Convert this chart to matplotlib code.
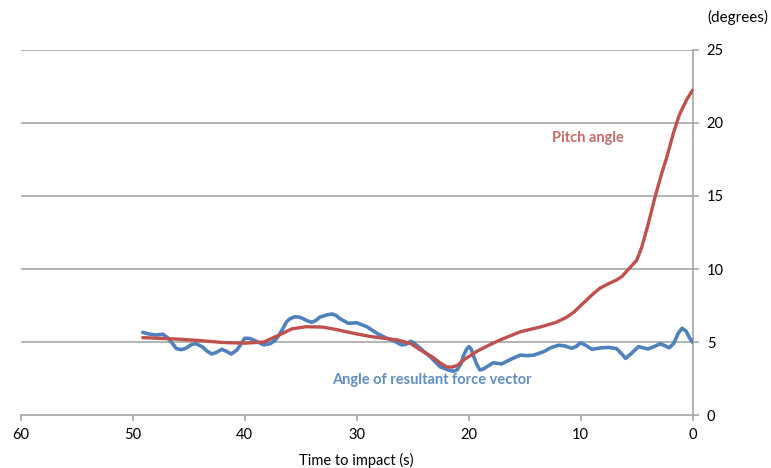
import matplotlib
matplotlib.use("Agg")
import matplotlib.pyplot as plt

plt.rcParams['font.family'] = ['Lato', 'DejaVu Sans']

# Angle of resultant force vector (blue)
force_t = [49.1, 48.45, 47.9, 47.3, 46.8, 46.4, 46.1, 45.7, 45.3, 44.8, 44.4, 43.8, 43.4,
           42.95, 42.5, 42.05, 41.6, 41.2, 40.7, 40.3,
           40.0, 39.6, 39.2, 38.7, 38.3, 37.7, 37.3, 37.0, 36.6, 36.25, 35.9, 35.5, 35.1,
           34.8, 34.4, 34.0, 33.6, 33.3, 32.7, 32.2, 31.8, 31.5,
           30.75, 30.0, 29.1, 28.2, 27.5, 26.7, 26.0, 25.6, 25.2, 24.9, 24.5, 24.0, 23.45,
           22.55, 21.8, 21.4,
           21.05, 20.7, 20.5, 20.2, 20.0, 19.8, 19.6, 19.3, 19.0, 18.7, 18.4, 17.8, 17.05,
           16.3, 15.4, 14.8, 14.2, 13.3,
           12.7, 12.0, 11.4, 10.8, 10.4, 10.0, 9.5, 9.0, 8.2, 7.5, 6.8, 6.3, 6.0, 5.5, 4.85,
           4.4, 4.0, 3.4, 2.9, 2.5, 2.1, 1.7, 1.3, 0.95, 0.6, 0.3, 0.0]
force_v = [5.66, 5.53, 5.48, 5.53, 5.25, 4.85, 4.55, 4.48, 4.55, 4.8, 4.9, 4.68, 4.4,
           4.18, 4.3, 4.5, 4.35, 4.18, 4.45, 4.9,
           5.25, 5.25, 5.14, 4.95, 4.8, 4.9, 5.1, 5.4, 5.9, 6.4, 6.62, 6.73, 6.7,
           6.6, 6.45, 6.35, 6.5, 6.7, 6.85, 6.92, 6.8, 6.6,
           6.28, 6.32, 6.05, 5.6, 5.32, 5.09, 4.8, 4.85, 5.05, 4.95, 4.68, 4.35, 4.0,
           3.3, 3.08, 3.0,
           3.08, 3.5, 4.0, 4.5, 4.68, 4.55, 4.1, 3.5, 3.08, 3.15, 3.3, 3.58, 3.5,
           3.8, 4.1, 4.07, 4.1, 4.34,
           4.6, 4.78, 4.73, 4.57, 4.7, 4.95, 4.75, 4.5, 4.6, 4.63, 4.55, 4.15, 3.88, 4.2, 4.68,
           4.6, 4.52, 4.7, 4.88, 4.75, 4.6, 4.9, 5.6, 5.94, 5.75, 5.3, 4.97]

# Pitch angle (red)
pitch_t = [49.1, 46, 44, 42, 40, 38.3, 37, 35.8, 34.5, 33, 31.8, 30.3, 28.8, 27.5,
           26.4, 25.2, 24.3, 23.2, 22.6, 22.0, 21.5, 21.0, 20.4, 19.3, 18.2, 17.2, 15.4,
           13.5, 12.2, 11.25, 10.6, 10.0, 9.1, 8.3, 7.5, 6.8, 6.3, 5.9, 5.6, 5.0, 4.55,
           3.97, 3.36, 2.77, 2.3, 1.73, 1.2, 0.54, 0.0]
pitch_v = [5.3, 5.2, 5.1, 4.97, 4.92, 5.0, 5.45, 5.9, 6.05, 6.02, 5.85, 5.6, 5.38, 5.25,
           5.15, 4.9, 4.45, 3.95, 3.6, 3.3, 3.28, 3.4, 3.8, 4.35, 4.78, 5.14, 5.7,
           6.05, 6.35, 6.7, 7.05, 7.5, 8.15, 8.68, 9.0, 9.25, 9.5, 9.85, 10.1, 10.6, 11.5,
           13.1, 14.95, 16.55, 17.7, 19.3, 20.55, 21.6, 22.26]

x_ticks = [60, 50, 40, 30, 20, 10, 0]
y_ticks = [0, 5, 10, 15, 20, 25]

fig = plt.figure(figsize=(7.71, 4.68), dpi=100)
ax = fig.add_axes([0.0268, 0.1132, 0.8717, 0.78])

for y in y_ticks[1:]:
    ax.axhline(y, color='#A6A6A6', lw=1.2, zorder=1)

ax.plot(force_t, force_v, color='#4F81BD', lw=2.6, solid_capstyle='round',
        solid_joinstyle='round', zorder=3)
ax.plot(pitch_t, pitch_v, color='#C0504D', lw=2.4, solid_capstyle='round',
        solid_joinstyle='round', zorder=4)

ax.set_xlim(60, 0)
ax.set_ylim(0, 25)
ax.set_xticks(x_ticks)
ax.set_yticks(y_ticks)
ax.yaxis.tick_right()
for s in ['top', 'left']:
    ax.spines[s].set_visible(False)
for s in ['right', 'bottom']:
    ax.spines[s].set_color('#A6A6A6')
    ax.spines[s].set_linewidth(1.2)
ax.tick_params(axis='both', direction='out', length=4, width=1.2, color='#A6A6A6',
               labelsize=10.5, labelcolor='black')
ax.tick_params(axis='x', pad=5)
ax.tick_params(axis='y', pad=6)

ax.set_xlabel('Time to impact (s)', fontsize=10.5)
ax.xaxis.set_label_coords(0.5, -0.105)

fig.text(0.996, 0.963, '(degrees)', fontsize=11, ha='right', va='center')
ax.text(9.4, 19.0, 'Pitch angle', color='#C0504D', fontsize=10.5, fontweight='bold',
        ha='center', va='center', alpha=0.85)
ax.text(23.3, 2.4, 'Angle of resultant force vector', color='#4F81BD', fontsize=10.5,
        fontweight='bold', ha='center', va='center', alpha=0.9)

fig.savefig('out.png', dpi=100)
